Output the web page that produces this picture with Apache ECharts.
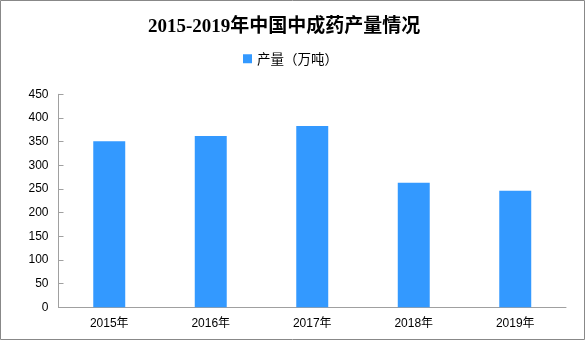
<!DOCTYPE html>
<html><head><meta charset="utf-8">
<script src="https://cdn.jsdelivr.net/npm/echarts@6/dist/echarts.min.js"></script>
<style>html,body{margin:0;padding:0;background:#fff}#c{width:585px;height:340px}</style>
</head><body><div id="c"></div>
<script>
const categories = ['2015年','2016年','2017年','2018年','2019年'];
const output = [351, 362, 383, 263, 246];
const seriesName = '产量（万吨）';
const titleText = '2015-2019年中国中成药产量情况';

const chart = echarts.init(document.getElementById('c'), null, {renderer:'canvas'});
chart.setOption({
  backgroundColor:'#fff',
  animation:false,
  title:{text:titleText, left:143, top:13,
    textStyle:{fontFamily:'"Liberation Serif","Noto Sans CJK SC",serif', fontSize:19, fontWeight:'bold', color:'#000'}},
  legend:{data:[seriesName], top:47, left:238, itemWidth:9, itemHeight:9, itemGap:5, icon:'rect',
    textStyle:{fontSize:13.5, color:'#000', fontFamily:'"Noto Sans CJK SC",sans-serif'}},
  grid:{left:58.5, right:19, top:94.3, bottom:32.7},
  xAxis:{type:'category', data:categories,
    axisLine:{lineStyle:{color:'#a0a0a0'}}, axisTick:{show:false},
    axisLabel:{color:'#000', fontSize:12, margin:10, fontFamily:'"Liberation Sans","Noto Sans CJK SC",sans-serif'}},
  yAxis:{type:'value', min:0, max:450, interval:50,
    axisLine:{show:true, lineStyle:{color:'#a0a0a0'}},
    axisTick:{show:true, inside:true, length:5, lineStyle:{color:'#a0a0a0'}},
    splitLine:{show:false},
    axisLabel:{color:'#000', fontSize:12, margin:10, fontFamily:'"Liberation Sans",sans-serif'}},
  series:[{name:seriesName, type:'bar', data:output, barWidth:'31.5%',
    itemStyle:{color:'#3399ff'}}],
  graphic:[{type:'rect', shape:{x:0.5,y:0.5,width:584,height:339}, style:{fill:'none', stroke:'#888', lineWidth:1}, silent:true}]
});
</script></body></html>
